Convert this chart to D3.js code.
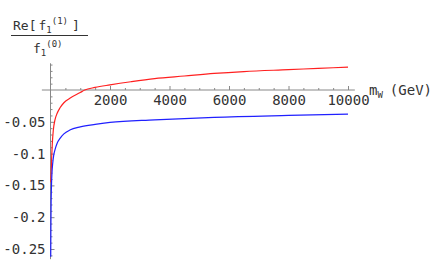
<!DOCTYPE html>
<html>
<head>
<meta charset="utf-8">
<script src="https://cdn.jsdelivr.net/npm/d3@7"></script>
<style>
  body { margin: 0; background: #fff; }
  svg { display: block; }
  text { font-family: "DejaVu Sans Mono", monospace; fill: #333; }
</style>
</head>
<body>
<div id="chart"></div>
<script>
// values
const redMW   = [12, 25, 40, 60, 95, 150, 220, 320, 450, 650, 1000, 1150, 1500, 2000, 2700, 3500, 4500, 5500, 6500, 8000, 9000, 10000];
const redVal  = [-0.145, -0.125, -0.105, -0.085, -0.063, -0.047, -0.037, -0.028, -0.020, -0.013, -0.004, 0.0, 0.004, 0.008, 0.013, 0.018, 0.022, 0.026, 0.029, 0.032, 0.034, 0.036];
const blueMW  = [8, 12, 20, 30, 50, 75, 110, 150, 220, 320, 450, 650, 1000, 1500, 2000, 3500, 5500, 8000, 10000];
const blueVal = [-0.262, -0.225, -0.18, -0.155, -0.13, -0.115, -0.102, -0.094, -0.084, -0.076, -0.069, -0.063, -0.058, -0.054, -0.051, -0.047, -0.043, -0.040, -0.038];

const xTicks = [2000, 4000, 6000, 8000, 10000];
const yTicks = [-0.05, -0.1, -0.15, -0.2, -0.25];
const yTickLabels = ["-0.05", "-0.1", "-0.15", "-0.2", "-0.25"];

const width = 441, height = 273;

const svg = d3.select("#chart").append("svg")
    .attr("width", width)
    .attr("height", height);

const x = d3.scaleLinear().domain([0, 10000]).range([50.5, 348]);
const y = d3.scaleLinear().domain([0, -0.25]).range([90, 249]);

const axisColor = "#888";

// x axis line
svg.append("line")
    .attr("x1", x(-290)).attr("x2", x(10230))
    .attr("y1", y(0)).attr("y2", y(0))
    .attr("stroke", axisColor).attr("stroke-width", 1);

// y axis line
svg.append("line")
    .attr("x1", x(0)).attr("x2", x(0))
    .attr("y1", y(0.042)).attr("y2", y(-0.266))
    .attr("stroke", axisColor).attr("stroke-width", 1);

// minor ticks x
svg.append("g")
    .attr("transform", `translate(0,${y(0)})`)
    .call(d3.axisBottom(x).tickValues(d3.range(500, 10001, 500).filter(v => v % 2000 !== 0))
        .tickSize(-2).tickFormat(""))
    .call(g => g.select(".domain").remove())
    .call(g => g.selectAll("line").attr("stroke", axisColor));

// major ticks x
svg.append("g")
    .attr("transform", `translate(0,${y(0)})`)
    .call(d3.axisBottom(x).tickValues(xTicks).tickSize(-4).tickPadding(5).tickFormat(d3.format("d")))
    .call(g => g.select(".domain").remove())
    .call(g => g.selectAll("line").attr("stroke", axisColor))
    .call(g => g.selectAll("text")
        .style("font-family", "DejaVu Sans Mono, monospace")
        .style("font-size", "14px")
        .attr("fill", "#333"));

// minor ticks y
svg.append("g")
    .attr("transform", `translate(${x(0)},0)`)
    .call(d3.axisLeft(y).tickValues(d3.range(4, -27, -1).map(v => v / 100).filter(v => Math.round(v * 100) % 5 !== 0))
        .tickSize(-2).tickFormat(""))
    .call(g => g.select(".domain").remove())
    .call(g => g.selectAll("line").attr("stroke", axisColor));

// major ticks y
svg.append("g")
    .attr("transform", `translate(${x(0)},0)`)
    .call(d3.axisLeft(y).tickValues(yTicks).tickSize(-4).tickPadding(5)
        .tickFormat((d, i) => yTickLabels[i]))
    .call(g => g.select(".domain").remove())
    .call(g => g.selectAll("line").attr("stroke", axisColor))
    .call(g => g.selectAll("text")
        .style("font-family", "DejaVu Sans Mono, monospace")
        .style("font-size", "14px")
        .attr("fill", "#333"));

const line = d3.line()
    .x(d => x(d[0]))
    .y(d => y(d[1]))
    .curve(d3.curveMonotoneX);

svg.append("path")
    .datum(d3.zip(redMW, redVal))
    .attr("fill", "none")
    .attr("stroke", "#ff2020")
    .attr("stroke-width", 1.2)
    .attr("d", line);

svg.append("path")
    .datum(d3.zip(blueMW, blueVal))
    .attr("fill", "none")
    .attr("stroke", "#2020ff")
    .attr("stroke-width", 1.2)
    .attr("d", line);

// x axis title: m_W (GeV)
const xt = svg.append("text")
    .attr("x", 369).attr("y", 95)
    .style("font-size", "14px");
xt.append("tspan").text("m");
xt.append("tspan").attr("dy", 3).style("font-size", "9px").text("W");
xt.append("tspan").attr("dy", -3).attr("dx", 7).text("(GeV)");

// y axis title: Re[f1^(1)] / f1^(0)
const num = svg.append("text")
    .attr("x", 13).attr("y", 30)
    .style("font-size", "13px");
num.append("tspan").text("Re[");
num.append("tspan").attr("dx", 2).text("f");
num.append("tspan").attr("dy", 3).style("font-size", "9px").text("1");
num.append("tspan").attr("dy", -9).style("font-size", "9px").text("(1)");
num.append("tspan").attr("dy", 6).attr("dx", 4).text("]");

svg.append("line")
    .attr("x1", 11).attr("x2", 88)
    .attr("y1", 35.5).attr("y2", 35.5)
    .attr("stroke", "#333").attr("stroke-width", 1);

const den = svg.append("text")
    .attr("x", 33).attr("y", 53)
    .style("font-size", "13px");
den.append("tspan").text("f");
den.append("tspan").attr("dy", 3).style("font-size", "9px").text("1");
den.append("tspan").attr("dy", -9).style("font-size", "9px").text("(0)");
</script>
</body>
</html>
